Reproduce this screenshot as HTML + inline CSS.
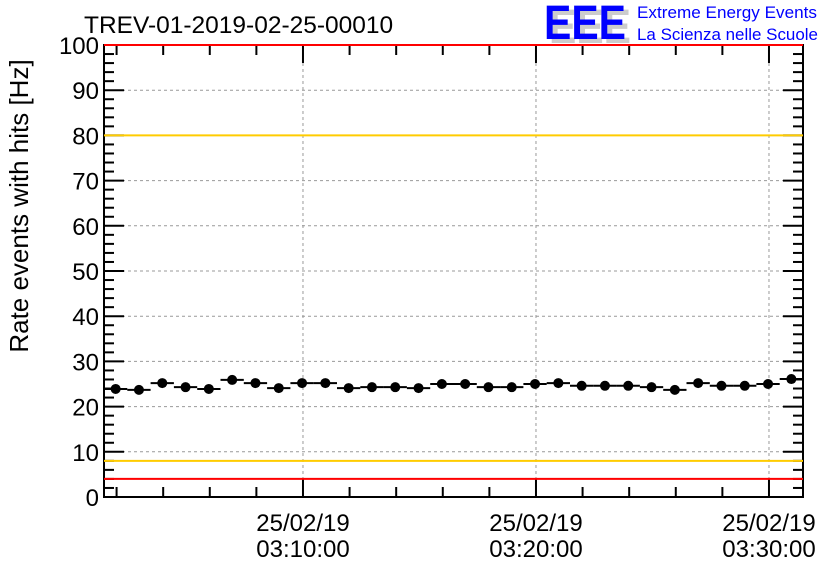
<!DOCTYPE html>
<html><head><meta charset="utf-8"><style>
body{margin:0;background:#fff;}
svg{display:block;font-family:"Liberation Sans",sans-serif;}
</style></head><body>
<svg id="chart" width="836" height="572" viewBox="0 0 836 572">
<text x="84" y="33" font-size="24.5">TREV-01-2019-02-25-00010</text>
<g>
<text x="549" y="43" font-size="48" font-weight="bold" fill="#ccc" textLength="82" lengthAdjust="spacingAndGlyphs">EEE</text>
<text x="544" y="39" font-size="48" font-weight="bold" fill="#00f" textLength="82" lengthAdjust="spacingAndGlyphs">EEE</text>
<text x="637" y="18" font-size="16.5" fill="#00f" textLength="180" lengthAdjust="spacingAndGlyphs">Extreme Energy Events</text>
<text x="637" y="40" font-size="16.5" fill="#00f" textLength="181" lengthAdjust="spacingAndGlyphs">La Scienza nelle Scuole</text>
</g>
<text transform="translate(28,206) rotate(-90)" text-anchor="middle" font-size="26">Rate events with hits [Hz]</text>
<g id="grid"></g><g id="axes"></g><g id="marks"></g>
</svg>
<script>
const values=[23.9,23.7,25.2,24.3,23.9,25.9,25.2,24.1,25.2,25.2,24.1,24.3,24.3,24.1,25.0,25.0,24.3,24.3,25.0,25.2,24.6,24.6,24.6,24.3,23.7,25.2,24.6,24.6,25.0,26.1];
const startMin=1.46; // minutes after 03:00:00 of first bin edge
const yTicks=[0,10,20,30,40,50,60,70,80,90,100];
const xTickLabels=["03:10:00","03:20:00","03:30:00"];
const xTickMins=[10,20,30];
const refLines=[{v:100,c:"#f00"},{v:4,c:"#f00"},{v:80,c:"#fc0"},{v:8,c:"#fc0"}];
const L=104,R=803,T=45,B=497,binW=(R-L)/values.length;
const X=m=>L+(m-startMin)*binW;
const Y=v=>B-(B-T)*v/100;
const NS="http://www.w3.org/2000/svg";
function mk(p,tag,a){const e=document.createElementNS(NS,tag);for(const k in a)e.setAttribute(k,a[k]);p.appendChild(e);return e;}
const grid=document.getElementById('grid'),axes=document.getElementById('axes'),marks=document.getElementById('marks');
yTicks.forEach(v=>{
 if(v>0&&v<100){const g=mk(grid,'line',{x1:L,x2:R,y1:Y(v),y2:Y(v),stroke:'#999','stroke-dasharray':'3,3'});
 
 }
 const t=mk(axes,'text',{x:L-5,y:Y(v)+9,'text-anchor':'end','font-size':24});t.textContent=v;
 
 
});
xTickMins.forEach((m,i)=>{
 const g=mk(grid,'line',{x1:X(m),x2:X(m),y1:T,y2:B,stroke:'#999','stroke-dasharray':'3,3'});
 
 
 const t1=mk(axes,'text',{x:X(m),y:531,'text-anchor':'middle','font-size':24});t1.textContent="25/02/19";
 
 
 const t2=mk(axes,'text',{x:X(m),y:557,'text-anchor':'middle','font-size':24});t2.textContent=xTickLabels[i];
 
 
});
for(let v=0;v<=100;v+=2){const len=v%10==0?20:10;
 mk(axes,'line',{x1:L,x2:L+len,y1:Y(v),y2:Y(v),stroke:'#000','stroke-width':2});
 mk(axes,'line',{x1:R-len,x2:R,y1:Y(v),y2:Y(v),stroke:'#000','stroke-width':2});}
for(let m=2;m<=32;m+=2){const x=X(m);if(x>R)break;const len=m%10==0?18:10;
 mk(axes,'line',{x1:x,x2:x,y1:B,y2:B-len,stroke:'#000','stroke-width':2});
 mk(axes,'line',{x1:x,x2:x,y1:T,y2:T+len,stroke:'#000','stroke-width':2});}
const fr=mk(axes,'rect',{x:L,y:T,width:R-L,height:B-T,fill:'none',stroke:'#000','stroke-width':2});


refLines.forEach(r=>{const l=mk(marks,'line',{x1:L,x2:R,y1:Y(r.v),y2:Y(r.v),stroke:r.c,'stroke-width':2});
 
 });
values.forEach((v,i)=>{
 const x0=L+i*binW,y=Y(v);
 const l=mk(marks,'line',{x1:x0,x2:x0+binW,y1:y,y2:y,stroke:'#000','stroke-width':2});
 
 
 const c=mk(marks,'circle',{cx:x0+binW/2,cy:y,r:5,fill:'#000'});
 
 
});
</script>
</body></html>
